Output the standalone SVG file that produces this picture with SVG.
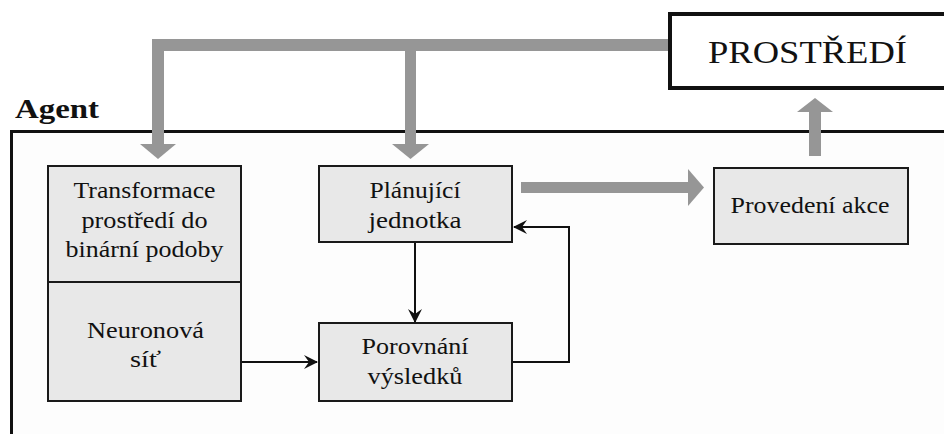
<svg xmlns="http://www.w3.org/2000/svg" width="944" height="434" viewBox="0 0 944 434">
<defs>
<style>
.box{fill:#e8e8e8;stroke:#1a1a1a;stroke-width:2}
.t{font-family:"Liberation Serif","DejaVu Serif","Times New Roman",serif;font-size:23px;fill:#111;text-anchor:middle}
.g{stroke:#969696;fill:none}
.gh{fill:#969696}
.ln{stroke:#111;stroke-width:2;fill:none}
</style>
<marker id="ah" markerWidth="14" markerHeight="14" viewBox="0 0 14 14" refX="13" refY="7" orient="auto" markerUnits="userSpaceOnUse">
<path d="M0,0 L14,7 L0,14 L5,7 Z" fill="#111"/>
</marker>
</defs>
<rect width="944" height="434" fill="#fff"/>

<g id="agent">
<rect x="11.5" y="131.5" width="1000" height="400" fill="#fdfdfd" stroke="#111" stroke-width="3"/>
<text class="t" x="15" y="118" style="font-size:28px;font-weight:bold;text-anchor:start" textLength="84" lengthAdjust="spacingAndGlyphs">Agent</text>
</g>

<g id="prostredi">
<rect x="670" y="14" width="300" height="74" fill="#fff" stroke="#111" stroke-width="4"/>
<text class="t" x="807.5" y="63" style="font-size:31px" textLength="199" lengthAdjust="spacingAndGlyphs">PROSTŘEDÍ</text>
</g>

<g id="connectors">
<path class="g" stroke-width="12" d="M668,45 H158 V145"/>
<polygon class="gh" points="140,144 176,144 158,159"/>
<path class="g" stroke-width="11" d="M410.5,45 V145"/>
<polygon class="gh" points="392,144 429,144 410.5,159"/>
<path class="g" stroke-width="12" d="M815,156 V111"/>
<polygon class="gh" points="797,112 833,112 815,98"/>
<path class="g" stroke-width="11" d="M521,187.5 H689"/>
<polygon class="gh" points="688,169 688,206 704,187.5"/>
<path class="ln" d="M415,243 V322" marker-end="url(#ah)"/>
<path class="ln" d="M241,362 H317" marker-end="url(#ah)"/>
<path class="ln" d="M513,362 H569 V227 H514" marker-end="url(#ah)"/>
</g>

<g id="transformace">
<rect class="box" x="48" y="166" width="193" height="116"/>
<text class="t" x="144.5" y="198" textLength="142" lengthAdjust="spacingAndGlyphs">Transformace</text>
<text class="t" x="144.5" y="228" textLength="126" lengthAdjust="spacingAndGlyphs">prostředí do</text>
<text class="t" x="144.5" y="257" textLength="158" lengthAdjust="spacingAndGlyphs">binární podoby</text>
</g>

<g id="neuronova">
<rect class="box" x="48" y="282" width="193" height="119"/>
<text class="t" x="145.5" y="338" textLength="117" lengthAdjust="spacingAndGlyphs">Neuronová</text>
<text class="t" x="145.5" y="367" textLength="31" lengthAdjust="spacingAndGlyphs">síť</text>
</g>

<g id="planujici">
<rect class="box" x="319" y="166" width="193" height="76"/>
<text class="t" x="415" y="198" textLength="91" lengthAdjust="spacingAndGlyphs">Plánující</text>
<text class="t" x="415" y="228" textLength="93" lengthAdjust="spacingAndGlyphs">jednotka</text>
</g>

<g id="porovnani">
<rect class="box" x="319" y="323" width="193" height="78"/>
<text class="t" x="415" y="354" textLength="107" lengthAdjust="spacingAndGlyphs">Porovnání</text>
<text class="t" x="415" y="384" textLength="95" lengthAdjust="spacingAndGlyphs">výsledků</text>
</g>

<g id="provedeni">
<rect class="box" x="714" y="168" width="194" height="76"/>
<text class="t" x="810" y="213" textLength="159" lengthAdjust="spacingAndGlyphs">Provedení akce</text>
</g>
</svg>
